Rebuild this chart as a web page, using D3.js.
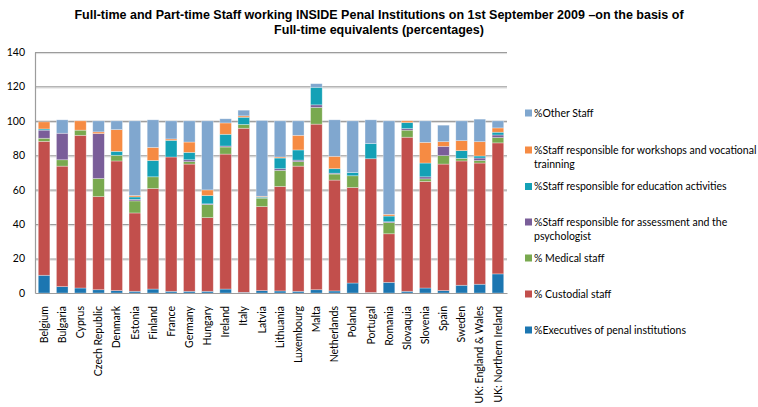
<!DOCTYPE html>
<html>
<head>
<meta charset="utf-8">
<script src="https://cdn.jsdelivr.net/npm/d3@7"></script>
<style>
  html, body { margin: 0; padding: 0; background: #fff; }
  svg { display: block; }
</style>
</head>
<body>
<svg id="chart" width="758" height="407"></svg>
<script>
// Countries along the x axis
const countries = ["Belgium", "Bulgaria", "Cyprus", "Czech Republic", "Denmark", "Estonia", "Finland",
  "France", "Germany", "Hungary", "Ireland", "Italy", "Latvia", "Lithuania", "Luxembourg", "Malta",
  "Netherlands", "Poland", "Portugal", "Romania", "Slovaquia", "Slovenia", "Spain", "Sweden",
  "UK: England & Wales", "UK: Northern Ireland"];

// Share of staff per category (percent of full-time equivalents)
const executives = [10.3, 3.7, 2.9, 1.9, 1.4, 1.0, 2.3, 1.0, 1.0, 1.0, 2.3, 0.4, 1.4, 1.2, 1.0, 1.9, 1.2, 5.8, 0.3, 6.2, 1.0, 2.9, 1.4, 4.5, 5.1, 11.1];
const custodial  = [77.8, 70.0, 88.7, 54.1, 75.3, 45.5, 58.4, 78.0, 73.9, 42.8, 78.4, 95.3, 48.8, 60.7, 72.7, 96.2, 64.4, 55.5, 77.7, 28.2, 89.5, 61.9, 73.5, 72.2, 70.4, 76.1];
const medical    = [1.8, 3.7, 3.0, 10.5, 3.3, 7.0, 6.8, 0.0, 1.4, 7.6, 4.1, 2.2, 4.9, 9.3, 2.6, 9.7, 3.5, 6.8, 0.0, 6.5, 4.1, 1.5, 4.9, 1.5, 1.5, 3.1];
const assessment = [4.7, 15.4, 0.0, 26.1, 0.0, 0.9, 0.0, 0.0, 1.1, 0.4, 0.6, 0.0, 0.0, 1.0, 0.9, 1.5, 0.5, 0.0, 0.0, 0.5, 0.9, 1.2, 5.4, 0.0, 1.4, 1.5];
const education  = [0.7, 0.0, 0.0, 0.0, 2.3, 1.4, 9.5, 9.7, 4.3, 4.8, 6.8, 4.2, 0.6, 6.2, 5.9, 10.2, 2.6, 1.9, 8.8, 3.3, 3.5, 8.0, 0.0, 4.5, 1.2, 1.6];
const workshops  = [4.1, 0.0, 5.4, 1.0, 12.6, 0.8, 7.6, 0.8, 6.0, 3.3, 6.6, 0.8, 0.5, 0.6, 8.5, 0.0, 7.2, 0.0, 0.0, 1.0, 1.0, 12.0, 2.7, 5.8, 8.3, 2.5];
const other      = [0.0, 7.8, 0.0, 6.4, 5.1, 43.4, 16.0, 10.5, 12.3, 40.1, 2.4, 3.3, 44.0, 21.0, 8.4, 2.1, 21.2, 30.0, 13.8, 54.3, 0.0, 12.5, 9.6, 11.5, 13.1, 4.1];

const yTicks = [0, 20, 40, 60, 80, 100, 120, 140];

const seriesNames = [
  "%Executives of penal institutions",
  "% Custodial staff",
  "% Medical staff",
  "%Staff responsible for assessment and the psychologist",
  "%Staff responsible for education activities",
  "%Staff responsible for workshops and vocational trainning",
  "%Other Staff"
];
const seriesValues = [executives, custodial, medical, assessment, education, workshops, other];
const seriesColors = ["#1c76b1", "#c24f4c", "#79a94f", "#7a5e99", "#14a1b6", "#f68b43", "#80a7cf"];
// Legend text broken into the lines it is shown on
const legendLines = [
  ["%Executives of penal institutions"],
  ["% Custodial staff"],
  ["% Medical staff"],
  ["%Staff responsible for assessment and the", "psychologist"],
  ["%Staff responsible for education activities"],
  ["%Staff responsible for workshops and vocational", "trainning"],
  ["%Other Staff"]
];

const svg = d3.select("#chart");
const margin = { left: 35, right: 251, top: 52, bottom: 114 };
const W = 758, H = 407;
const plotW = W - margin.left - margin.right;
const plotH = H - margin.top - margin.bottom;

// Table of rows for d3.stack
const rows = countries.map((c, i) => {
  const r = { country: c };
  seriesNames.forEach((s, k) => { r[s] = seriesValues[k][i]; });
  return r;
});
const stacked = d3.stack().keys(seriesNames)(rows);

const x = d3.scaleBand().domain(countries).range([margin.left, margin.left + plotW]).paddingInner(0.36).paddingOuter(0.18);
const y = d3.scaleLinear().domain([0, 140]).range([margin.top + plotH, margin.top]);

// Title
const title = svg.append("g")
  .attr("font-family", "'Liberation Sans Narrow', 'Arial Narrow', 'Liberation Sans', sans-serif")
  .attr("font-weight", "bold").attr("font-size", 12.5).attr("fill", "#000").attr("text-anchor", "middle");
title.append("text").attr("x", 379).attr("y", 19)
  .text("Full-time and Part-time Staff working INSIDE Penal Institutions on 1st September 2009 \u2013on the basis of");
title.append("text").attr("x", 379).attr("y", 34).text("Full-time equivalents (percentages)");

// Horizontal gridlines
const grid = svg.append("g");
yTicks.filter(t => t > 0).forEach(t => {
  grid.append("line").attr("x1", margin.left).attr("x2", margin.left + plotW)
    .attr("y1", y(t) + 0.5).attr("y2", y(t) + 0.5).attr("stroke", "#9c9c9c").attr("stroke-width", 1.2);
  grid.append("line").attr("x1", margin.left).attr("x2", margin.left + plotW)
    .attr("y1", y(t) + 1.6).attr("y2", y(t) + 1.6).attr("stroke", "#dcdcdc").attr("stroke-width", 1);
});

// Y axis
const yAxis = svg.append("g").attr("transform", `translate(${margin.left},0)`)
  .call(d3.axisLeft(y).tickValues(yTicks).tickSize(0).tickPadding(10));
yAxis.select(".domain").attr("stroke", "#9c9c9c").attr("stroke-width", 1.2);
yAxis.selectAll("text").attr("font-family", "Lato, 'Open Sans', sans-serif").attr("font-size", 10.5).attr("fill", "#000");

// Stacked bars
svg.append("g").selectAll("g").data(stacked).join("g")
  .attr("fill", (d, i) => seriesColors[i])
  .selectAll("rect").data(d => d).join("rect")
  .attr("x", d => x(d.data.country))
  .attr("width", x.bandwidth())
  .attr("y", d => y(d[1]))
  .attr("height", d => Math.max(0, y(d[0]) - y(d[1])))
  .attr("stroke", "rgba(255,255,255,0.45)").attr("stroke-width", 0.7);

// X axis
const xAxis = svg.append("g").attr("transform", `translate(0,${margin.top + plotH})`)
  .call(d3.axisBottom(x).tickSize(0).tickPadding(0));
xAxis.select(".domain").attr("stroke", "#9c9c9c").attr("stroke-width", 1.2);
xAxis.selectAll("text")
  .attr("font-family", "Lato, 'Open Sans', sans-serif").attr("font-size", 10.5).attr("fill", "#000")
  .attr("transform", "rotate(-90)")
  .attr("text-anchor", "end")
  .attr("dx", "-13")
  .attr("dy", "0.35em")
  .attr("x", 0).attr("y", 0);

// Legend (top to bottom: other staff first)
const legendY = [330, 294, 258, 222, 186.5, 150, 113];
const legend = svg.append("g").attr("font-family", "Lato, 'Open Sans', sans-serif").attr("font-size", 10.5).attr("fill", "#000");
seriesNames.forEach((s, i) => {
  const g = legend.append("g").attr("transform", `translate(525,${legendY[i]})`);
  g.append("rect").attr("x", 0).attr("y", -3.5).attr("width", 7).attr("height", 7).attr("fill", seriesColors[i]);
  legendLines[i].forEach((line, j) => {
    g.append("text").attr("x", 9).attr("y", j * 14).attr("dy", "0.35em").text(line);
  });
});
</script>
</body>
</html>
